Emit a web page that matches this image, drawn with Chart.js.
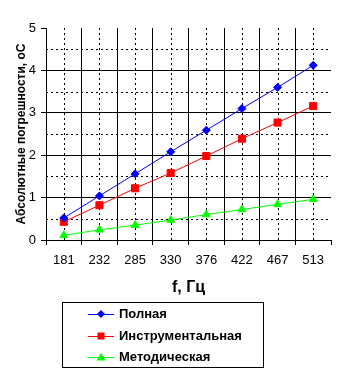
<!DOCTYPE html>
<html>
<head>
<meta charset="utf-8">
<script src="https://cdn.jsdelivr.net/npm/chart.js@4"></script>
<style>
  body { margin: 0; background: #fff; }
  #wrap { position: relative; width: 348px; height: 379px; }
  #legend {
    position: absolute; left: 62px; top: 302px; width: 202px; height: 66px;
    box-sizing: border-box; border: 1px solid #000;
    font: bold 13px 'Liberation Sans', Arial, sans-serif; color: #000;
  }
  .row { position: absolute; left: 25px; height: 14px; line-height: 14px; white-space: nowrap; }
  .row svg { vertical-align: top; }
  .row span { position: absolute; left: 31px; top: 0; }
</style>
</head>
<body>
<div id="wrap">
  <canvas id="grafico" width="348" height="379"></canvas>
  <div id="legend"></div>
</div>
<script>
const freq = ['181', '232', '285', '330', '376', '422', '467', '513'];
const polnaya = [0.52, 1.04, 1.56, 2.08, 2.59, 3.10, 3.60, 4.12];
const instrument = [0.43, 0.82, 1.22, 1.58, 1.98, 2.39, 2.77, 3.16];
const metod = [0.11, 0.24, 0.35, 0.47, 0.60, 0.72, 0.84, 0.96];
const seriesNames = ['Полная', 'Инструментальная', 'Методическая'];
const halfSteps = [0.5, 1.5, 2.5, 3.5, 4.5];

const fontFamily = "'Liberation Sans', Arial, sans-serif";

// dotted minor grid: category centres and half units
const dottedGrid = {
    id: 'dottedGrid',
    beforeDatasetsDraw(chart) {
        const { ctx, chartArea: a, scales: { x, y } } = chart;
        ctx.save();
        ctx.strokeStyle = '#000';
        ctx.lineWidth = 1;
        ctx.setLineDash([2, 3]);
        ctx.beginPath();
        freq.forEach((f, i) => {
            const px = Math.round(x.getPixelForValue(i)) + 0.5;
            ctx.moveTo(px, a.top);
            ctx.lineTo(px, a.bottom);
        });
        halfSteps.forEach(v => {
            const py = Math.round(y.getPixelForValue(v)) + 0.5;
            ctx.moveTo(a.left, py);
            ctx.lineTo(a.right, py);
        });
        ctx.stroke();
        ctx.restore();
    }
};

const ctx = document.getElementById('grafico').getContext('2d');
const grafico = new Chart(ctx, {
    type: 'line',
    data: {
        labels: freq,
        datasets: [{
            label: seriesNames[0],
            data: polnaya,
            borderColor: '#0000ff',
            backgroundColor: '#0000ff',
            pointStyle: 'rectRot',
            pointRadius: 4
        }, {
            label: seriesNames[1],
            data: instrument,
            borderColor: '#ff0000',
            backgroundColor: '#ff0000',
            pointStyle: 'rect',
            pointRadius: 5
        }, {
            label: seriesNames[2],
            data: metod,
            borderColor: '#00ff00',
            backgroundColor: '#00ff00',
            pointStyle: 'triangle',
            pointRadius: 4.5
        }]
    },
    options: {
        responsive: false,
        animation: false,
        devicePixelRatio: 1,
        borderWidth: 1,
        elements: { line: { borderWidth: 1, tension: 0 }, point: { borderWidth: 1 } },
        layout: { padding: { left: 0, top: 28, right: 17, bottom: 79 } },
        plugins: {
            legend: { display: false },
            tooltip: { enabled: false }
        },
        scales: {
            x: {
                type: 'category',
                offset: true,
                grid: {
                    offset: true,
                    color: c => c.tick ? '#000' : 'rgba(0,0,0,0)',
                    tickColor: '#000',
                    tickLength: 5,
                    lineWidth: 1
                },
                border: { color: '#000', width: 1 },
                ticks: { color: '#000', font: { family: fontFamily, size: 13 }, padding: 8, maxRotation: 0 },
                title: {
                    display: true,
                    text: 'f, Гц',
                    color: '#000',
                    font: { family: fontFamily, size: 16, weight: 'bold' },
                    padding: { top: 0, bottom: 3 }
                },
                afterFit(scale) { scale.height = 60; }
            },
            y: {
                min: 0,
                max: 5,
                grid: {
                    color: c => (c.tick && c.tick.value === 5) ? 'rgba(0,0,0,0)' : '#000',
                    tickColor: '#000',
                    tickLength: 5,
                    lineWidth: 1
                },
                border: { color: '#000', width: 1 },
                ticks: { stepSize: 1, color: '#000', font: { family: fontFamily, size: 13 }, padding: 5 },
                title: {
                    display: true,
                    text: 'Абсолютные погрешности, оС',
                    color: '#000',
                    font: { family: fontFamily, size: 12, weight: 'bold' },
                    padding: { top: 14, bottom: 0 }
                },
                afterFit(scale) { scale.width = 46; }
            }
        }
    },
    plugins: [dottedGrid]
});

// legend box as html
const markers = [
    '<polygon points="13,1 17,5 13,9 9,5" fill="#0000ff"/>',
    '<rect x="9.5" y="1.5" width="7" height="7" fill="#ff0000"/>',
    '<polygon points="13,1 17.5,8.5 8.5,8.5" fill="#00ff00"/>'
];
const colors = ['#0000ff', '#ff0000', '#00ff00'];
const rowTops = [4, 26, 47];
document.getElementById('legend').innerHTML = seriesNames.map((n, i) =>
    '<div class="row" style="top:' + rowTops[i] + 'px">' +
    '<svg width="28" height="14" viewBox="0 -2 28 14"><line x1="0" y1="5.5" x2="26" y2="5.5" stroke="' + colors[i] + '" stroke-width="1"/>' +
    markers[i] + '</svg><span>' + n + '</span></div>'
).join('');
</script>
</body>
</html>
